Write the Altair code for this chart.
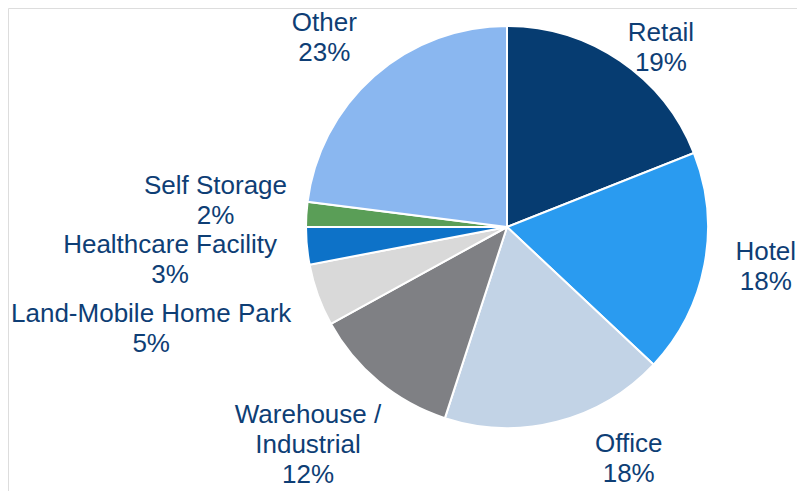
import altair as alt
import pandas as pd

categories = ["Retail", "Hotel", "Office", "Warehouse / Industrial",
              "Land-Mobile Home Park", "Healthcare Facility", "Self Storage", "Other"]
shares = [19, 18, 18, 12, 5, 3, 2, 23]
label_names = ["Retail", "Hotel", "Office", "Warehouse /\nIndustrial",
               "Land-Mobile Home Park", "Healthcare Facility", "Self Storage", "Other"]
colors = ["#063C71", "#2A9BF0", "#C2D3E6", "#7F8084",
          "#D9D9D9", "#0D72C8", "#5A9E57", "#8AB7F0"]

df = pd.DataFrame({
    "category": categories,
    "share": shares,
    "order": list(range(len(categories))),
    "label": [f"{n}\n{s}%" for n, s in zip(label_names, shares)],
})

CX, CY, R_OUT, R_LABEL = 499, 219, 201, 240
TEXT_COLOR = "#0E3E75"

# label nudges (dx, dy) from the anchor at the slice mid-angle
label_nudge = {
    "Retail": (19, 4),
    "Hotel": (23, -20),
    "Office": (62, -15),
    "Warehouse / Industrial": (-46, 3),
    "Land-Mobile Home Park": (-130, 6),
    "Healthcare Facility": (-98, -5),
    "Self Storage": (-52, -26),
    "Other": (-24, -24),
}

base = alt.Chart(df)

pie = base.mark_arc(outerRadius=R_OUT, stroke="white", strokeWidth=2).encode(
    theta=alt.Theta("share:Q", stack=True),
    order=alt.Order("order:Q"),
    color=alt.Color("category:N", scale=alt.Scale(domain=categories, range=colors), legend=None),
    x=alt.value(CX),
    y=alt.value(CY),
)

labels = []
total = sum(shares)
for cat in categories:
    dx, dy = label_nudge[cat]
    layer = (
        base.transform_window(cum="sum(share)", sort=[alt.SortField("order")],
                              frame=[None, 0])
        .transform_calculate(mid="datum.cum - datum.share / 2")
        .transform_filter(alt.datum.category == cat)
        .mark_text(radius=R_LABEL, dx=dx, dy=dy, fontSize=26, font="Liberation Sans",
                   color=TEXT_COLOR, lineBreak="\n", lineHeight=30,
                   align="center", baseline="middle")
        .encode(
            theta=alt.Theta("mid:Q", stack=None, scale=alt.Scale(domain=[0, total])),
            text="label:N",
            x=alt.value(CX),
            y=alt.value(CY),
        )
    )
    labels.append(layer)

chart = (
    alt.layer(pie, *labels)
    .resolve_scale(theta="independent")
    .properties(width=789, height=483, autosize="none", padding=0)
    .configure_view(strokeWidth=0, strokeOpacity=0)
    .configure(background="white")
)

chart.save("out.html", embed_options={"renderer": "svg", "actions": False})
